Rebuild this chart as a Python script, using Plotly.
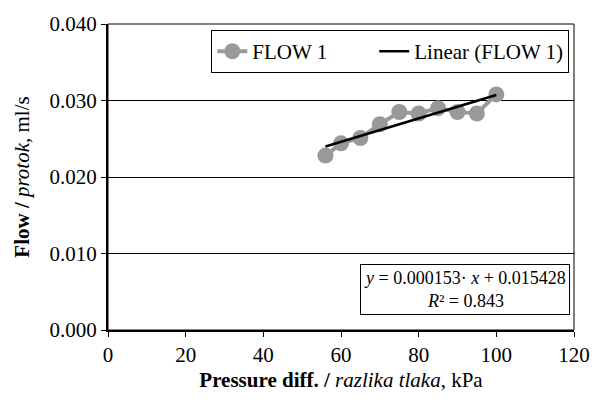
import plotly.graph_objects as go

# Measured flow vs. pressure difference
pressure_kpa = [56, 60, 65, 70, 75, 80, 85, 90, 95, 100]
flow_mls = [0.0228, 0.0244, 0.0251, 0.0269, 0.0285, 0.0283, 0.0290, 0.0285, 0.0283, 0.0308]

# Linear trend coefficients (y = slope * x + intercept)
slope = 0.000153
intercept = 0.015428
r_squared = 0.843

trend_x = [min(pressure_kpa), max(pressure_kpa)]
trend_y = [slope * x + intercept for x in trend_x]

FONT = "Liberation Serif, Times New Roman, serif"
GRAY = "#999999"
NBSP = "\u00a0"

fig = go.Figure()
fig.add_trace(go.Scatter(
    x=pressure_kpa, y=flow_mls, name="FLOW 1" + NBSP * 8, mode="lines+markers",
    line=dict(color=GRAY, width=4),
    marker=dict(color=GRAY, size=16),
))
fig.add_trace(go.Scatter(
    x=trend_x, y=trend_y, name="Linear (FLOW 1)", mode="lines",
    line=dict(color="black", width=2.5),
))

fig.add_annotation(
    x=92.0, y=0.0053, xref="x", yref="y",
    text=f"<i>y</i> = {slope:.6f}· <i>x</i> + {intercept:.6f}<br><i>R</i>² = {r_squared:.3f}",
    showarrow=False, align="center",
    font=dict(family=FONT, size=18, color="black"),
    bgcolor="white", bordercolor="black", borderwidth=1, borderpad=3,
)

# Thin frame around the plotting area
fig.add_shape(type="rect", xref="paper", yref="paper", x0=0, y0=0, x1=1, y1=1,
              line=dict(color="black", width=1), layer="above")

fig.update_layout(
    width=602, height=400,
    margin=dict(l=108, r=28, t=20, b=68),
    paper_bgcolor="white", plot_bgcolor="white",
    font=dict(family=FONT, size=21, color="black"),
    showlegend=True,
    legend=dict(
        orientation="h", x=0.99, xanchor="right", y=0.98, yanchor="top",
        bordercolor="black", borderwidth=1, bgcolor="white",
        font=dict(family=FONT, size=21, color="black"),
        itemwidth=30, tracegroupgap=0,
    ),
    xaxis=dict(
        range=[0, 120], dtick=20, tick0=0,
        showline=True, linecolor="black", linewidth=2,
        ticks="outside", ticklen=5, tickcolor="black", tickwidth=1,
        showgrid=False, zeroline=False,
        tickfont=dict(family=FONT, size=21),
        title=dict(text="<b>Pressure diff. /</b> <i>razlika tlaka</i>, kPa",
                   font=dict(family=FONT, size=21), standoff=6),
    ),
    yaxis=dict(
        range=[0, 0.04], dtick=0.01, tick0=0, tickformat=".3f",
        showline=True, linecolor="black", linewidth=2,
        ticks="outside", ticklen=5, tickcolor="black", tickwidth=1,
        showgrid=True, gridcolor="black", gridwidth=1, zeroline=False,
        tickfont=dict(family=FONT, size=21),
        title=dict(text="<b>Flow /</b> <i>protok</i>, ml/s",
                   font=dict(family=FONT, size=21), standoff=14),
    ),
)

fig.write_html("out.html")
